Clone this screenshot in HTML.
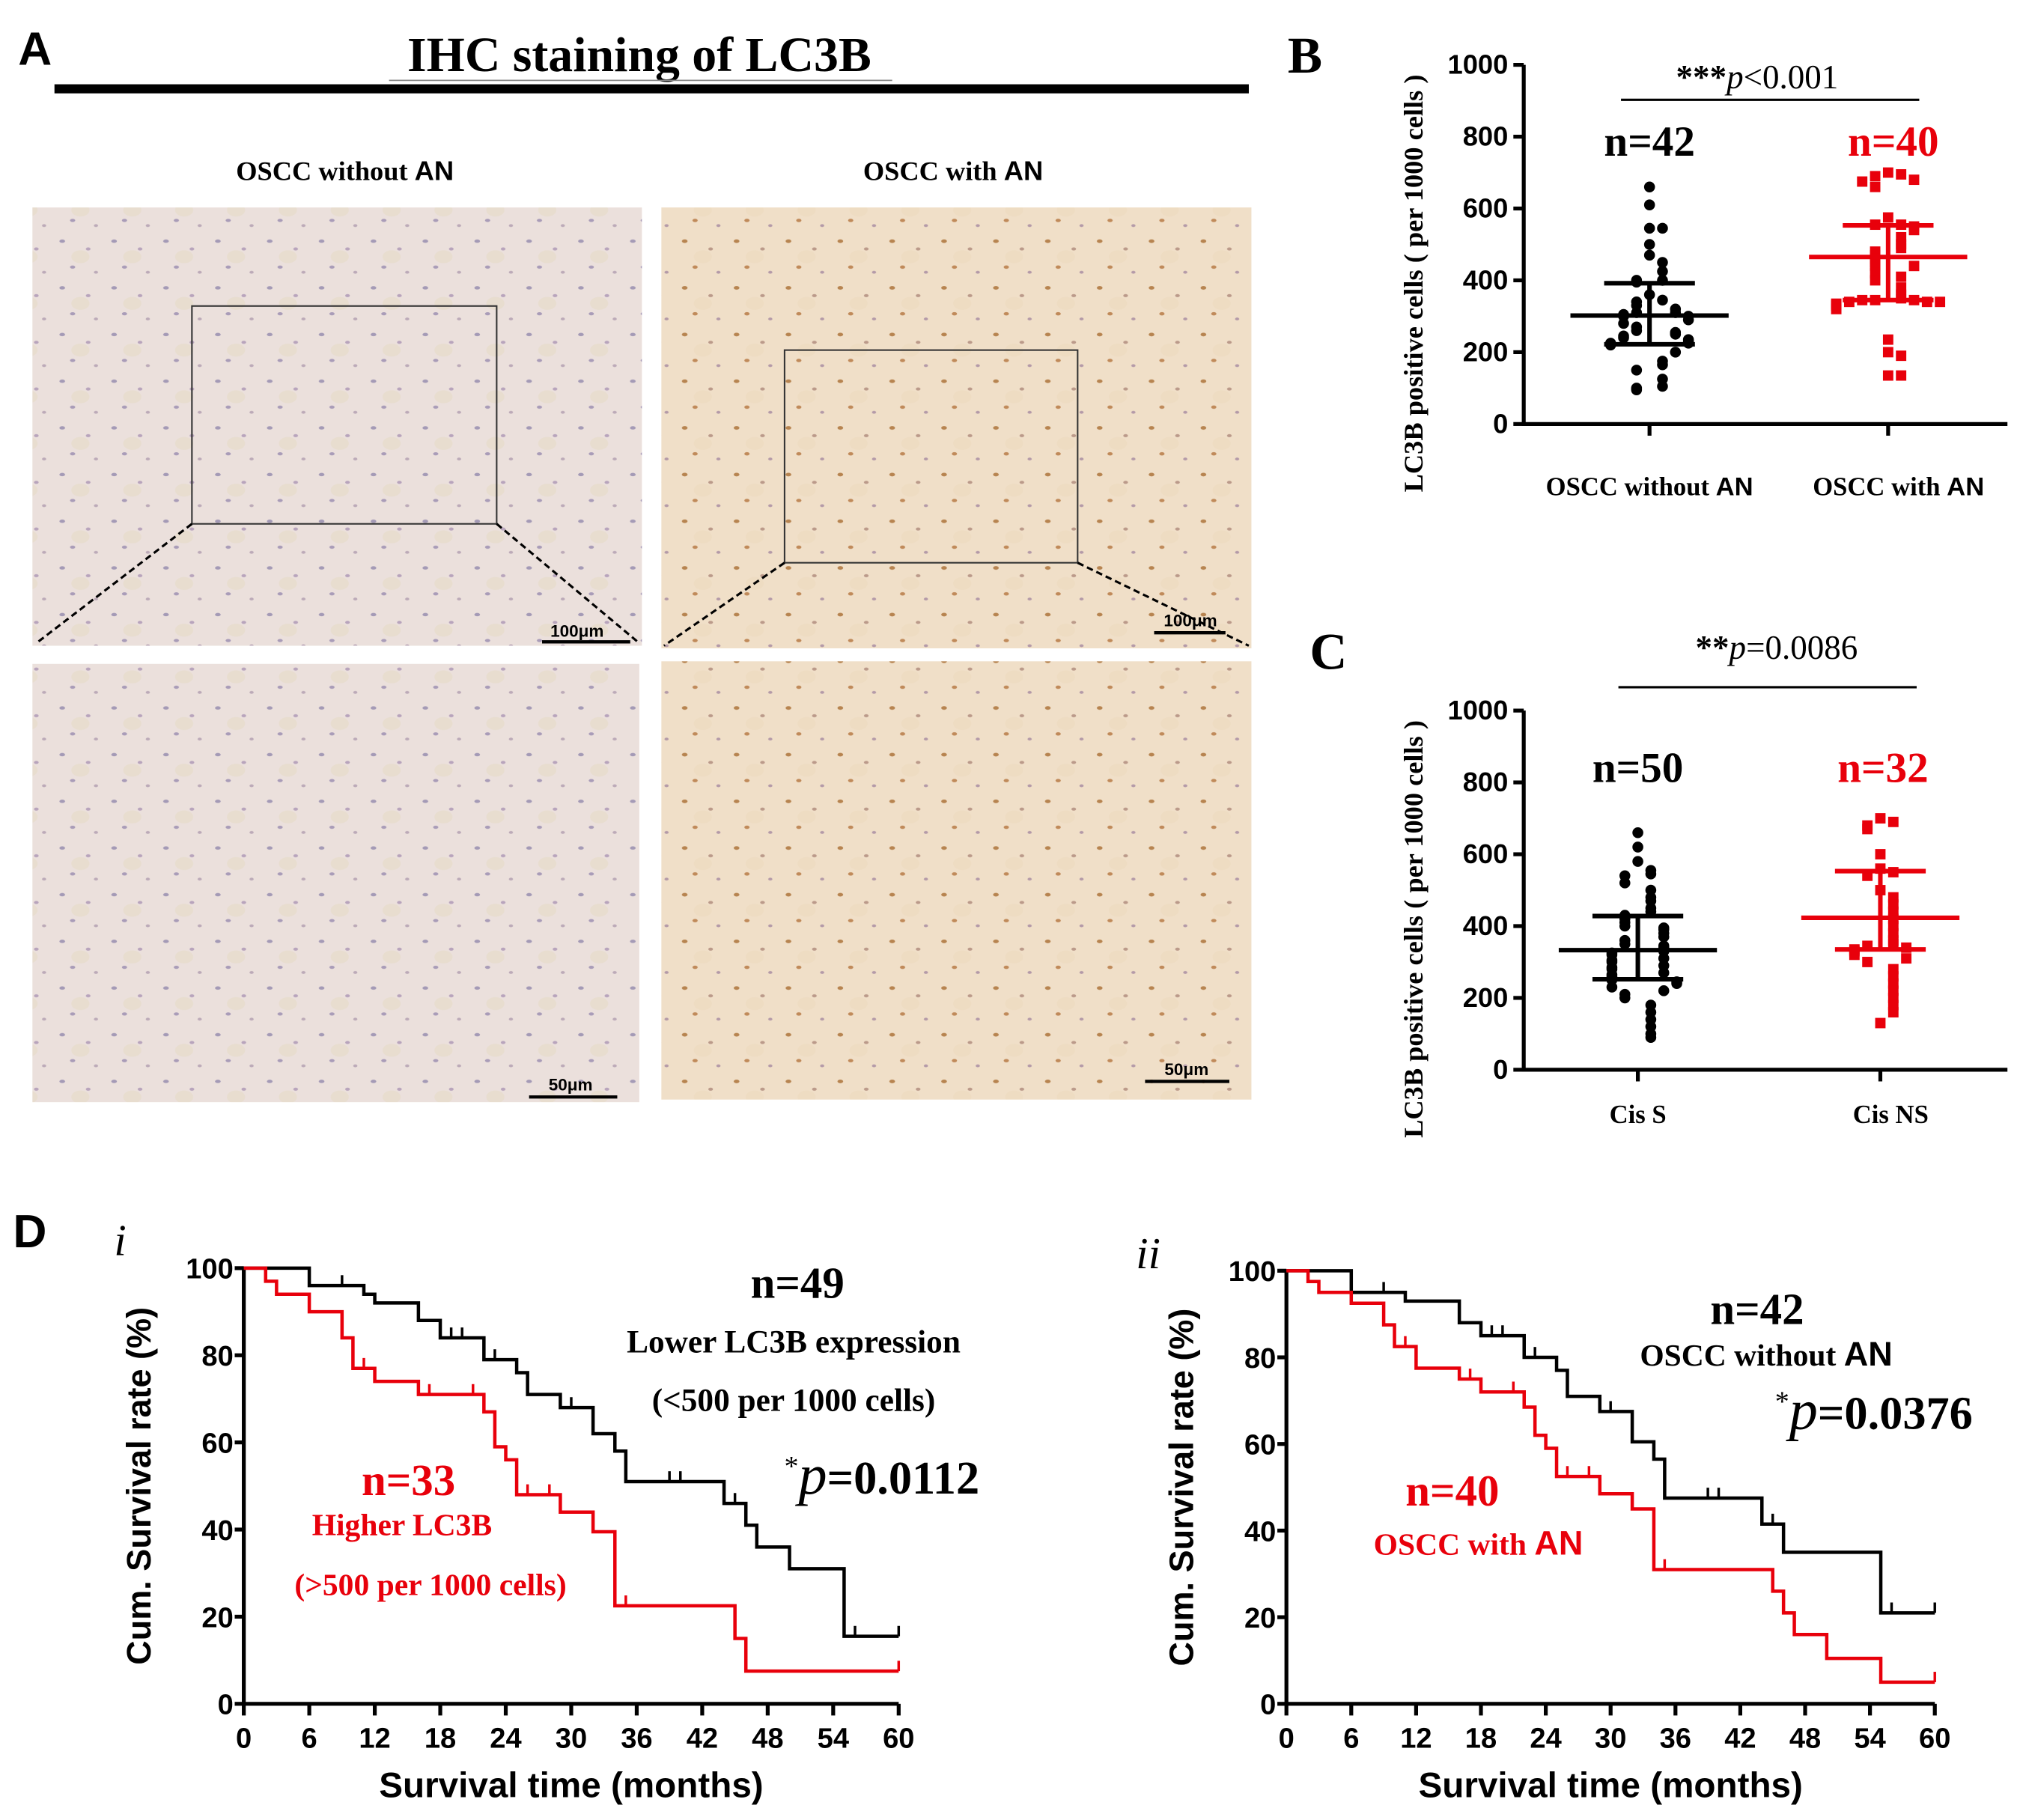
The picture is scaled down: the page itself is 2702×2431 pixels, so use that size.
<!DOCTYPE html>
<html><head><meta charset="utf-8"><title>LC3B IHC figure</title>
<style>
html,body{margin:0;padding:0;background:#fff;}
svg{display:block;}
.serif{font-family:"Liberation Serif",serif;font-weight:bold;}
.sans{font-family:"Liberation Sans",sans-serif;font-weight:bold;}
</style></head>
<body>
<svg id="fig" width="2702" height="2431" viewBox="0 0 1560 1403.6" preserveAspectRatio="none" xmlns="http://www.w3.org/2000/svg">
<defs>
  <pattern id="tisL" width="40" height="36" patternUnits="userSpaceOnUse">
    <rect width="40" height="36" fill="#ebe0dc"/>
    <ellipse cx="8" cy="6" rx="2.2" ry="1.3" fill="#a49ab6"/>
    <ellipse cx="28" cy="12" rx="1.8" ry="1.2" fill="#b8a4bc"/>
    <ellipse cx="16" cy="26" rx="2" ry="1.2" fill="#a99cb8"/>
    <ellipse cx="34" cy="30" rx="1.6" ry="1.1" fill="#bcaab8"/>
    <ellipse cx="22" cy="18" rx="7" ry="5" fill="#e6dac6" opacity=".6"/>
  </pattern>
  <pattern id="tisR" width="40" height="36" patternUnits="userSpaceOnUse">
    <rect width="40" height="36" fill="#f0dfc8"/>
    <ellipse cx="8" cy="6" rx="2.2" ry="1.4" fill="#b78450"/>
    <ellipse cx="28" cy="12" rx="1.8" ry="1.2" fill="#bb9a8a"/>
    <ellipse cx="16" cy="26" rx="2" ry="1.3" fill="#c08a5a"/>
    <ellipse cx="34" cy="30" rx="1.6" ry="1.1" fill="#b49aa8"/>
    <ellipse cx="22" cy="18" rx="7" ry="5" fill="#ecdabe" opacity=".6"/>
  </pattern>
</defs>

<!-- Panel A -->
<g>
  <text x="14" y="50" class="sans" font-size="36">A</text>
  <text x="493" y="55" class="serif" font-size="38" text-anchor="middle">IHC staining of LC3B</text>
  <line x1="300" y1="62" x2="688" y2="62" stroke="#888" stroke-width="1"/>
  <rect x="42" y="65" width="921" height="7" fill="#000"/>
  <text x="266" y="139" class="serif" font-size="21" text-anchor="middle">OSCC without <tspan font-family="Liberation Sans,sans-serif">AN</tspan></text>
  <text x="735" y="139" class="serif" font-size="21" text-anchor="middle">OSCC with <tspan font-family="Liberation Sans,sans-serif">AN</tspan></text>

  <rect x="25" y="160" width="470" height="338" fill="url(#tisL)"/>
  <rect x="510" y="160" width="455" height="340" fill="url(#tisR)"/>
  <rect x="25" y="512" width="468" height="338" fill="url(#tisL)"/>
  <rect x="510" y="510" width="455" height="338" fill="url(#tisR)"/>
  <rect x="148" y="236" width="235" height="168" fill="none" stroke="#333" stroke-width="1.2"/>
  <rect x="605" y="270" width="226" height="164" fill="none" stroke="#333" stroke-width="1.2"/>
  <g stroke="#000" stroke-width="1.8" stroke-dasharray="5,3">
    <line x1="148" y1="404" x2="28" y2="496"/><line x1="383" y1="404" x2="493" y2="496"/>
    <line x1="605" y1="434" x2="512" y2="498"/><line x1="831" y1="434" x2="963" y2="498"/>
  </g>
  <g class="sans" font-size="13" fill="#000" text-anchor="middle">
    <text x="445" y="491">100μm</text><line x1="418" y1="495" x2="486" y2="495" stroke="#000" stroke-width="2.5"/>
    <text x="918" y="483">100μm</text><line x1="890" y1="488" x2="945" y2="488" stroke="#000" stroke-width="2.5"/>
    <text x="440" y="841">50μm</text><line x1="408" y1="846" x2="476" y2="846" stroke="#000" stroke-width="2.5"/>
    <text x="915" y="829">50μm</text><line x1="883" y1="834" x2="948" y2="834" stroke="#000" stroke-width="2.5"/>
  </g>
</g>

<text x="993" y="56" class="serif" font-size="40">B</text>
<text x="1010" y="516" class="serif" font-size="40">C</text>
<text x="10" y="962" class="sans" font-size="36">D</text>
<text x="88" y="968" font-family="Liberation Serif,serif" font-style="italic" font-size="34">i</text>
<text x="876" y="978" font-family="Liberation Serif,serif" font-style="italic" font-size="34">ii</text>

<g id="chartB"></g>
<g id="chartC"></g>
<g id="chartDi"></g>
<g id="chartDii"></g>
</svg>

<script>
const NS = "http://www.w3.org/2000/svg";
// ---- Panel B data ----
const bCategories = ["OSCC without AN", "OSCC with AN"];
const bBlack = [660,610,545,545,500,470,450,425,400,400,395,360,345,340,330,320,310,310,305,300,300,290,280,270,260,255,250,245,240,235,230,225,225,220,200,175,165,150,125,105,100,95];
const bRed = [700,695,690,680,675,660,575,555,555,550,540,520,500,490,480,470,460,450,440,440,420,410,400,380,360,350,345,345,345,340,340,340,335,330,320,235,200,190,135,135];
const bStatsBlack = [302, 392, 222]; // mean, upper, lower
const bStatsRed = [465, 553, 345];
const bN = ["n=42", "n=40"];
// ---- Panel C data ----
const cCategories = ["Cis S", "Cis NS"];
const cBlack = [660,620,580,555,545,540,520,500,480,470,450,440,430,420,410,400,395,390,380,370,360,350,345,340,330,325,320,310,305,300,290,285,280,270,265,260,255,250,245,240,230,220,210,200,180,160,140,120,100,90];
const cRed = [700,690,680,670,600,560,550,540,500,480,460,440,420,400,380,360,350,345,340,335,330,320,310,300,280,260,240,220,200,180,160,130];
const cStatsBlack = [333, 428, 252];
const cStatsRed = [423, 553, 335];
const cN = ["n=50", "n=32"];
const yTicksScatter = [0,200,400,600,800,1000];
// ---- Panel D data (KM): step times & survival (%) ----
const d1BlackT = [0,6,11,12,16,18,22,25,26,29,32,34,35,44,46,47,50,55,60];
const d1BlackS = [100,96,94,92,88,84,79,76,71,68,62,58,51,46,41,36,31,15.5,15.5];
const d1BlackCens = [9,19,20,23,30,39,40,45,56,60];
const d1RedT = [0,2,3,6,9,10,12,16,22,23,24,25,29,32,34,45,46,60];
const d1RedS = [100,97,94,90,84,77,74,71,67,59,56,48,44,39.5,22.5,15,7.5,7.5];
const d1RedCens = [11,17,21,26,28,35,60];
const d2BlackT = [0,6,11,16,18,22,25,26,29,32,34,35,44,46,55,60];
const d2BlackS = [100,95,93,88,85,80,77,71,67.5,60.5,56.5,47.5,41.5,35,21,21];
const d2BlackCens = [9,19,20,23,30,39,40,45,56,60];
const d2RedT = [0,2,3,6,9,10,12,16,18,22,23,24,25,29,32,34,45,46,47,50,55,60];
const d2RedS = [100,97.5,95,92.5,87.5,82.5,77.5,75,72,68.5,62,59,52.5,48.5,45,31,26,21,16,10.5,5,5];
const d2RedCens = [11,17,21,26,28,35,60];
const xTicksKM = [0,6,12,18,24,30,36,42,48,54,60];
const yTicksKM = [0,20,40,60,80,100];

function mk(tag, attrs, parent, txt){
  const e = document.createElementNS(NS, tag);
  for (const k in attrs) e.setAttribute(k, attrs[k]);
  if (txt !== undefined) e.textContent = txt;
  parent.appendChild(e);
  return e;
}

function scatterChart(g, cfg){
  const x0=1175, x1=1548, yTop=cfg.yTop, yBot=cfg.yBot;
  const Y = v => yBot - (v/1000)*(yBot-yTop);
  const ax = mk('path',{d:`M${x0},${yTop} V${yBot} H${x1}`,stroke:'#000','stroke-width':3,fill:'none'},g);
  
  
  yTicksScatter.forEach(t=>{
    mk('line',{x1:x0-8,x2:x0,y1:Y(t),y2:Y(t),stroke:'#000','stroke-width':3},g);
    const tl = mk('text',{x:x0-12,y:Y(t)+7,'text-anchor':'end',class:'sans','font-size':21},g,String(t));
    
    
  });
  const yt = mk('text',{transform:`translate(1097,${(yTop+yBot)/2+30}) rotate(-90)`,'text-anchor':'middle',class:'serif','font-size':21},g,'LC3B positive cells ( per 1000 cells )');
  
  
  const groups = [{vals:cfg.black,stats:cfg.sb,col:'#000',cx:cfg.cx[0],sq:false},{vals:cfg.red,stats:cfg.sr,col:'#e8000b',cx:cfg.cx[1],sq:true}];
  groups.forEach((gr,gi)=>{
    mk('line',{x1:gr.cx,x2:gr.cx,y1:yBot,y2:yBot+9,stroke:'#000','stroke-width':3},g);
    const xl = mk('text',{x:gr.cx+(gi?8:0),y:cfg.labY,'text-anchor':'middle',class:'serif','font-size':cfg.labSize},g);
    
    
    if (cfg.cats[gi].endsWith(' AN')) {
      xl.appendChild(document.createTextNode(cfg.cats[gi].replace(' AN',' ')));
      const ts = mk('tspan',{'font-family':'Liberation Sans,sans-serif'},xl,'AN');
    } else xl.textContent = cfg.cats[gi];
    // beeswarm layout
    const sorted = gr.vals.slice().sort((a,b)=>b-a);
    const placed = [];
    sorted.forEach(v=>{
      const near = placed.filter(p=>Math.abs(p-v)<28).length;
      const k = Math.ceil(near/2)*(near%2?1:-1);
      placed.push(v);
      const cx = gr.cx + k*10, cy = Y(v);
      let m;
      if (gr.sq) m = mk('rect',{x:cx-4,y:cy-4,width:8,height:8,fill:gr.col},g);
      else m = mk('circle',{cx:cx,cy:cy,r:4.2,fill:gr.col},g);
      
      
    });
    const [mean,up,lo] = gr.stats;
    mk('line',{x1:gr.cx-61,x2:gr.cx+61,y1:Y(mean),y2:Y(mean),stroke:gr.col,'stroke-width':3.5},g);
    mk('line',{x1:gr.cx-35,x2:gr.cx+35,y1:Y(up),y2:Y(up),stroke:gr.col,'stroke-width':3.5},g);
    mk('line',{x1:gr.cx-35,x2:gr.cx+35,y1:Y(lo),y2:Y(lo),stroke:gr.col,'stroke-width':3.5},g);
    mk('line',{x1:gr.cx,x2:gr.cx,y1:Y(up),y2:Y(lo),stroke:gr.col,'stroke-width':3.5},g);
    const nt = mk('text',{x:gr.cx+(gi?cfg.nOff:0),y:cfg.nY,'text-anchor':'middle',class:'serif','font-size':33,fill:gr.col},g,cfg.n[gi]);
    
    
  });
  mk('line',{x1:cfg.sig[0],x2:cfg.sig[1],y1:cfg.sig[2],y2:cfg.sig[2],stroke:'#000','stroke-width':1.8},g);
  const st = mk('text',{x:cfg.sigT[0],y:cfg.sigT[1],'text-anchor':'middle','font-family':'Liberation Serif,serif','font-size':26},g);
  mk('tspan',{'font-weight':'bold'},st,cfg.sigStars);
  mk('tspan',{'font-style':'italic'},st,'p');
  st.appendChild(document.createTextNode(cfg.sigRest));
  
  
}

scatterChart(document.getElementById('chartB'),{yTop:50,yBot:327,cx:[1272,1456],black:bBlack,red:bRed,sb:bStatsBlack,sr:bStatsRed,cats:bCategories,n:bN,nY:120,nOff:4,labY:382,labSize:20,sig:[1250,1480,77],sigT:[1355,68],sigStars:'***',sigRest:'<0.001'});
scatterChart(document.getElementById('chartC'),{yTop:548,yBot:825,cx:[1263,1450],black:cBlack,red:cRed,sb:cStatsBlack,sr:cStatsRed,cats:cCategories,n:cN,nY:603,nOff:2,labY:866,labSize:20,sig:[1248,1478,530],sigT:[1370,508],sigStars:'**',sigRest:'=0.0086'});

function kmChart(g, cfg){
  const X = t => cfg.x0 + t/60*(cfg.x1-cfg.x0);
  const Y = s => cfg.yB - s/100*(cfg.yB-cfg.yT);
  const ax = mk('path',{d:`M${cfg.x0},${cfg.yT} V${cfg.yB} H${cfg.x1}`,stroke:'#000','stroke-width':3,fill:'none'},g);
  
  
  yTicksKM.forEach(t=>{
    mk('line',{x1:cfg.x0-7,x2:cfg.x0,y1:Y(t),y2:Y(t),stroke:'#000','stroke-width':3},g);
    const tl = mk('text',{x:cfg.x0-8,y:Y(t)+8,'text-anchor':'end',class:'sans','font-size':22},g,String(t));
    
    
  });
  xTicksKM.forEach(t=>{
    mk('line',{x1:X(t),x2:X(t),y1:cfg.yB,y2:cfg.yB+9,stroke:'#000','stroke-width':3},g);
    const tl = mk('text',{x:X(t),y:cfg.yB+34,'text-anchor':'middle',class:'sans','font-size':22},g,String(t));
    
    
  });
  const xt = mk('text',{x:(cfg.x0+cfg.x1)/2,y:cfg.yB+72,'text-anchor':'middle',class:'sans','font-size':27.5},g,'Survival time (months)');
  
  
  const yt = mk('text',{transform:`translate(${cfg.x0-72},${(cfg.yT+cfg.yB)/2}) rotate(-90)`,'text-anchor':'middle',class:'sans','font-size':26},g,'Cum. Survival rate (%)');
  
  
  cfg.series.forEach(se=>{
    let d = `M${X(se.t[0])},${Y(se.s[0])}`;
    for (let i=1;i<se.t.length;i++){ d += ` H${X(se.t[i])} V${Y(se.s[i])}`; }
    const p = mk('path',{d:d,stroke:se.col,'stroke-width':2.6,fill:'none'},g);
    
    
    se.c.forEach(ct=>{
      let s = se.s[0];
      for (let i=0;i<se.t.length;i++){ if (se.t[i] < ct || (ct===60 && se.t[i]<=ct)) s = se.s[i]; }
      const cm = mk('line',{x1:X(ct),x2:X(ct),y1:Y(s),y2:Y(s)-8,stroke:se.col,'stroke-width':2},g);
      
      
    });
  });
  cfg.texts.forEach(tx=>{
    const t = mk('text',{x:tx[0],y:tx[1],'text-anchor':'middle','font-family':'Liberation Serif,serif','font-weight':'bold','font-size':tx[2],fill:tx[3]},g);
    t.innerHTML = tx[4];
    
    
  });
}

kmChart(document.getElementById('chartDi'),{x0:188,x1:693,yT:978,yB:1314,
  series:[{t:d1BlackT,s:d1BlackS,c:d1BlackCens,col:'#000',name:'lower-lc3b-curve'},{t:d1RedT,s:d1RedS,c:d1RedCens,col:'#e8000b',name:'higher-lc3b-curve'}],
  texts:[[615,1001,34,'#000','n=49','n-label-lower'],[612,1043,25,'#000','Lower LC3B expression','legend-lower'],[612,1088,25,'#000','(&lt;500  per 1000 cells)','legend-lower-note'],
         [680,1152,36,'#000','<tspan font-weight="normal" font-size="22" dy="-14">*</tspan><tspan font-style="italic" font-weight="normal" font-size="44" dy="14">p</tspan>=0.0112','p-value-i'],
         [315,1153,34,'#e8000b','n=33','n-label-higher'],[310,1184,24,'#e8000b','Higher LC3B','legend-higher'],[332,1230,24,'#e8000b','(&gt;500  per 1000 cells)','legend-higher-note']]});
kmChart(document.getElementById('chartDii'),{x0:992,x1:1492,yT:980,yB:1314,
  series:[{t:d2BlackT,s:d2BlackS,c:d2BlackCens,col:'#000',name:'without-an-curve'},{t:d2RedT,s:d2RedS,c:d2RedCens,col:'#e8000b',name:'with-an-curve'}],
  texts:[[1355,1021,34,'#000','n=42','n-label-without-an'],[1362,1053,24,'#000','OSCC without <tspan font-family="Liberation Sans,sans-serif" font-size="26">AN</tspan>','legend-without-an'],
         [1445,1102,36,'#000','<tspan font-weight="normal" font-size="22" dy="-14">*</tspan><tspan font-style="italic" font-weight="normal" font-size="44" dy="14">p</tspan>=0.0376','p-value-ii'],
         [1120,1161,34,'#e8000b','n=40','n-label-with-an'],[1140,1199,24,'#e8000b','OSCC with <tspan font-family="Liberation Sans,sans-serif" font-size="26">AN</tspan>','legend-with-an']]});
</script>
</body></html>
